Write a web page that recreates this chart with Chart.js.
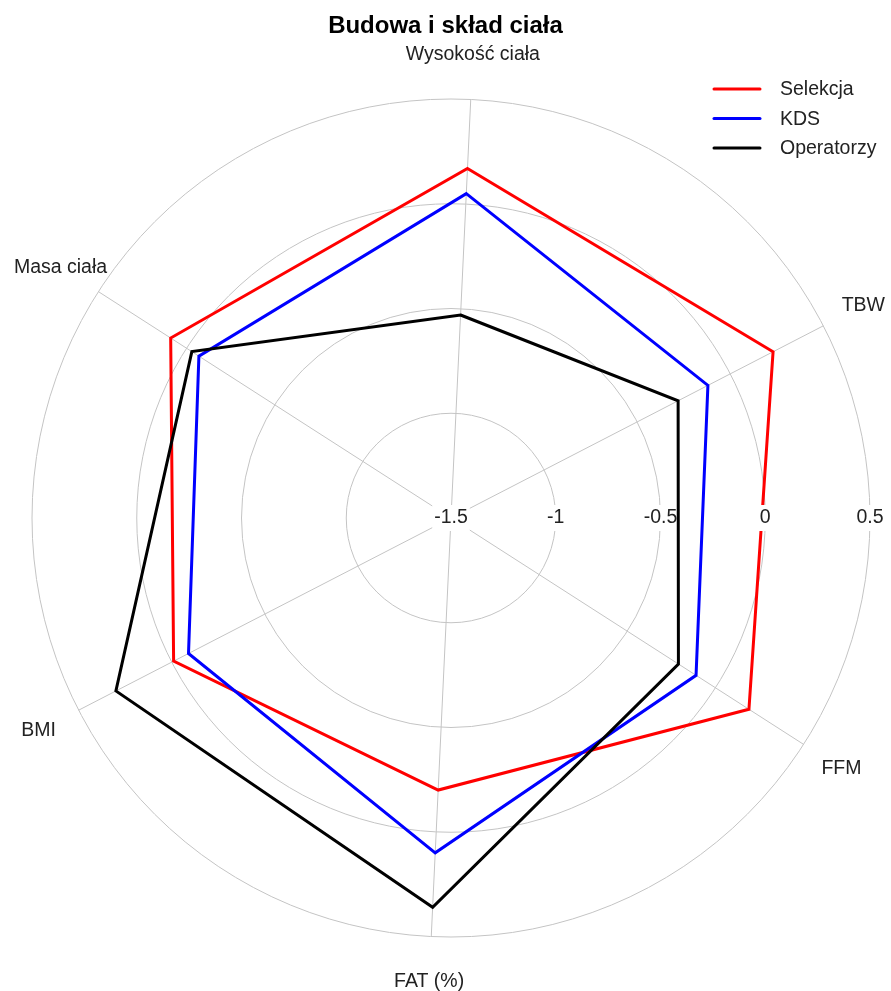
<!DOCTYPE html>
<html>
<head>
<meta charset="utf-8">
<title>Budowa i skład ciała</title>
<script src="https://cdn.jsdelivr.net/npm/chart.js@4.4.1/dist/chart.umd.min.js"></script>
<style>
    html, body { margin: 0; padding: 0; background: #ffffff; }
    #wrap { width: 891px; height: 991px; }
</style>
</head>
<body>
<div id="wrap"><canvas id="radarChart" width="891" height="991"></canvas></div>
<script>
// Axis names (clockwise from the top)
const categories = ['Wysokość ciała', 'TBW', 'FFM', 'FAT (%)', 'BMI', 'Masa ciała'];

// Standardised scores
const selekcjaValues = [0.17, 0.23, 0.19, -0.20, -0.01, 0.09];
const kdsValues = [0.05, -0.12, -0.11, 0.10, -0.09, -0.07];
const operatorzyValues = [-0.53, -0.28, -0.21, 0.36, 0.30, -0.03];

// Radial tick values and their labels
const tickValues = [-1.5, -1, -0.5, 0, 0.5];
const tickLabels = ['-1.5', '-1', '-0.5', '0', '0.5'];

const textColor = '#222222';
const gridColor = '#c4c4c4';
const labelFont = "19.5px 'Liberation Sans', Arial, sans-serif";

Chart.defaults.font.family = "'Liberation Sans', Arial, sans-serif";

// Tick labels with a white backdrop, drawn after red and blue but under black
const tickLabelPlugin = {
    id: 'tickLabels',
    afterDatasetDraw(chart, args) {
        if (args.index !== 1) return;
        const scale = chart.scales.r;
        const ctx = chart.ctx;
        ctx.save();
        ctx.font = labelFont;
        ctx.textAlign = 'center';
        ctx.textBaseline = 'middle';
        tickValues.forEach((v, i) => {
            const x = scale.xCenter + scale.getDistanceFromCenterForValue(v);
            const y = scale.yCenter;
            const w = ctx.measureText(tickLabels[i]).width + 4;
            ctx.fillStyle = '#ffffff';
            ctx.fillRect(x - w / 2, y - 13, w, 26);
            ctx.fillStyle = textColor;
            ctx.fillText(tickLabels[i], x, y);
        });
        ctx.restore();
    }
};

// Axis names placed outside the outer ring, plus the legend in the top right
const outerTextPlugin = {
    id: 'outerText',
    afterDraw(chart) {
        const scale = chart.scales.r;
        const ctx = chart.ctx;
        ctx.save();
        ctx.font = labelFont;
        ctx.fillStyle = textColor;
        ctx.textAlign = 'center';
        ctx.textBaseline = 'middle';
        chart.data.labels.forEach((label, i) => {
            const p = scale.getPointPosition(i, scale.drawingArea + 45);
            ctx.fillText(label, p.x, p.y);
        });

        // legend
        ctx.textAlign = 'left';
        chart.data.datasets.forEach((ds, i) => {
            const y = 89 + i * 29.5;
            ctx.strokeStyle = ds.borderColor;
            ctx.lineWidth = 3;
            ctx.lineCap = 'round';
            ctx.beginPath();
            ctx.moveTo(714, y);
            ctx.lineTo(760, y);
            ctx.stroke();
            ctx.fillStyle = textColor;
            ctx.fillText(ds.label, 780, y + 1);
        });
        ctx.restore();
    }
};

new Chart(document.getElementById('radarChart'), {
    type: 'radar',
    data: {
        labels: categories,
        datasets: [
            { label: 'Selekcja', data: selekcjaValues, borderColor: '#ff0000', order: 3 },
            { label: 'KDS', data: kdsValues, borderColor: '#0000ff', order: 2 },
            { label: 'Operatorzy', data: operatorzyValues, borderColor: '#000000', order: 1 }
        ]
    },
    options: {
        responsive: false,
        animation: false,
        elements: {
            line: { borderWidth: 3, fill: false, tension: 0 },
            point: { radius: 0, hoverRadius: 0 }
        },
        plugins: {
            legend: { display: false },
            tooltip: { enabled: false },
            title: {
                display: true,
                text: 'Budowa i skład ciała',
                color: '#000000',
                font: { size: 24, weight: 'bold' },
                padding: { top: 12, bottom: 10 }
            }
        },
        scales: {
            r: {
                min: -1.5,
                max: 0.5,
                startAngle: 2.7,
                ticks: { display: false, stepSize: 0.5 },
                pointLabels: { display: false },
                grid: { circular: true, color: gridColor, lineWidth: 1 },
                angleLines: { color: gridColor, lineWidth: 1 },
                // pin the polar area to where the reference puts it
                afterFit: (s) => {
                    s.xCenter = 451;
                    s.yCenter = 518;
                    s.drawingArea = 419;
                }
            }
        }
    },
    plugins: [tickLabelPlugin, outerTextPlugin]
});
</script>
</body>
</html>
